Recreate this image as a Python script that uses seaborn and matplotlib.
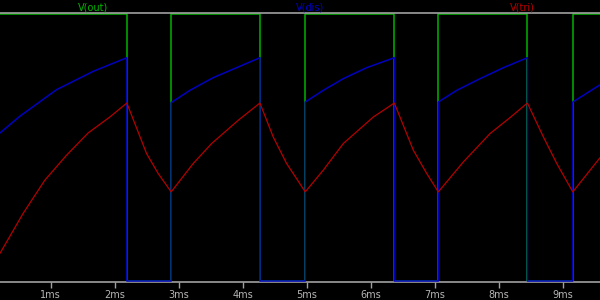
# 555 timer waveforms, LTspice style

import seaborn as sns
import matplotlib.pyplot as plt

# V(out): square wave (ms, V)
out_t = [0.208, 2.189, 2.189, 2.881, 2.881, 4.267, 4.267, 4.975, 4.975, 6.366, 6.366,
         7.053, 7.053, 8.444, 8.444, 9.153, 9.153, 9.580]
out_v = [5, 5, 0, 0, 5, 5, 0, 0, 5, 5, 0, 0, 5, 5, 0, 0, 5, 5]

# V(dis): discharge pin
dis_t = [0.208, 0.517, 1.091, 1.663, 2.189, 2.189, 2.881,
         2.881, 3.173, 3.538, 3.903, 4.267, 4.267, 4.975,
         4.975, 5.256, 5.569, 5.934, 6.366, 6.366, 7.053,
         7.053, 7.341, 7.705, 8.069, 8.444, 8.444, 9.153,
         9.153, 9.580]
dis_v = [2.777, 3.090, 3.590, 3.933, 4.189, 0, 0,
         3.346, 3.577, 3.815, 4.002, 4.189, 0, 0,
         3.358, 3.577, 3.796, 4.002, 4.189, 0, 0,
         3.358, 3.577, 3.796, 4.002, 4.189, 0, 0,
         3.358, 3.683]

# V(tri): capacitor voltage
tri_t = [0.208, 0.569, 0.908, 1.247, 1.584, 1.923, 2.189,
         2.497, 2.678, 2.881,
         3.225, 3.513, 3.928, 4.267,
         4.475, 4.684, 4.975,
         5.256, 5.569, 6.038, 6.366,
         6.663, 6.872, 7.053,
         7.444, 7.861, 8.173, 8.444,
         8.694, 8.903, 9.153,
         9.580]
tri_v = [0.519, 1.268, 1.891, 2.360, 2.777, 3.077, 3.339,
         2.391, 2.017, 1.672,
         2.204, 2.579, 3.015, 3.339,
         2.702, 2.204, 1.672,
         2.079, 2.579, 3.077, 3.339,
         2.453, 2.017, 1.672,
         2.234, 2.766, 3.066, 3.339,
         2.702, 2.204, 1.672,
         2.316]

ticks = [1, 2, 3, 4, 5, 6, 7, 8, 9]
tick_labels = ['1ms', '2ms', '3ms', '4ms', '5ms', '6ms', '7ms', '8ms', '9ms']

sns.set_style("dark")
plt.rcParams['font.family'] = ['Liberation Sans Narrow', 'DejaVu Sans']

fig = plt.figure(figsize=(6, 3), dpi=100, facecolor='black')
ax = fig.add_axes([0, 0.061, 1, 0.8947])
ax.set_facecolor('black')

green = '#00b400'
blue = '#0000c0'
red = '#b40000'

sns.lineplot(x=out_t, y=out_v, ax=ax, color=green, lw=1.1, sort=False, estimator=None,
             zorder=2)
sns.lineplot(x=dis_t, y=dis_v, ax=ax, color=blue, lw=1.1, sort=False, estimator=None,
             zorder=3)
sns.lineplot(x=tri_t, y=tri_v, ax=ax, color=red, lw=0.9, sort=False, estimator=None,
             zorder=4)

ax.set_xlim(0.2083, 9.578)
ax.set_ylim(-0.013, 5.0225)
ax.grid(False)

for s in ['left', 'right']:
    ax.spines[s].set_visible(False)
for s in ['top', 'bottom']:
    ax.spines[s].set_visible(True)
    ax.spines[s].set_color('#a0a0a0')
    ax.spines[s].set_linewidth(1.2)

ax.set_xticks(ticks)
ax.set_xticklabels(tick_labels)
ax.set_yticks([])
ax.tick_params(axis='x', direction='out', length=4, width=1, color='#a0a0a0',
               labelcolor='#b4b4b4', labelsize=7, pad=2, bottom=True)

fig.text(93 / 600, 1 - 7 / 300, 'V(out)', color=green, fontsize=7, ha='center', va='center')
fig.text(310 / 600, 1 - 7 / 300, 'V(dis)', color=blue, fontsize=7, ha='center', va='center')
fig.text(522 / 600, 1 - 7 / 300, 'V(tri)', color=red, fontsize=7, ha='center', va='center')

fig.savefig('out.png', dpi=100, facecolor='black')
